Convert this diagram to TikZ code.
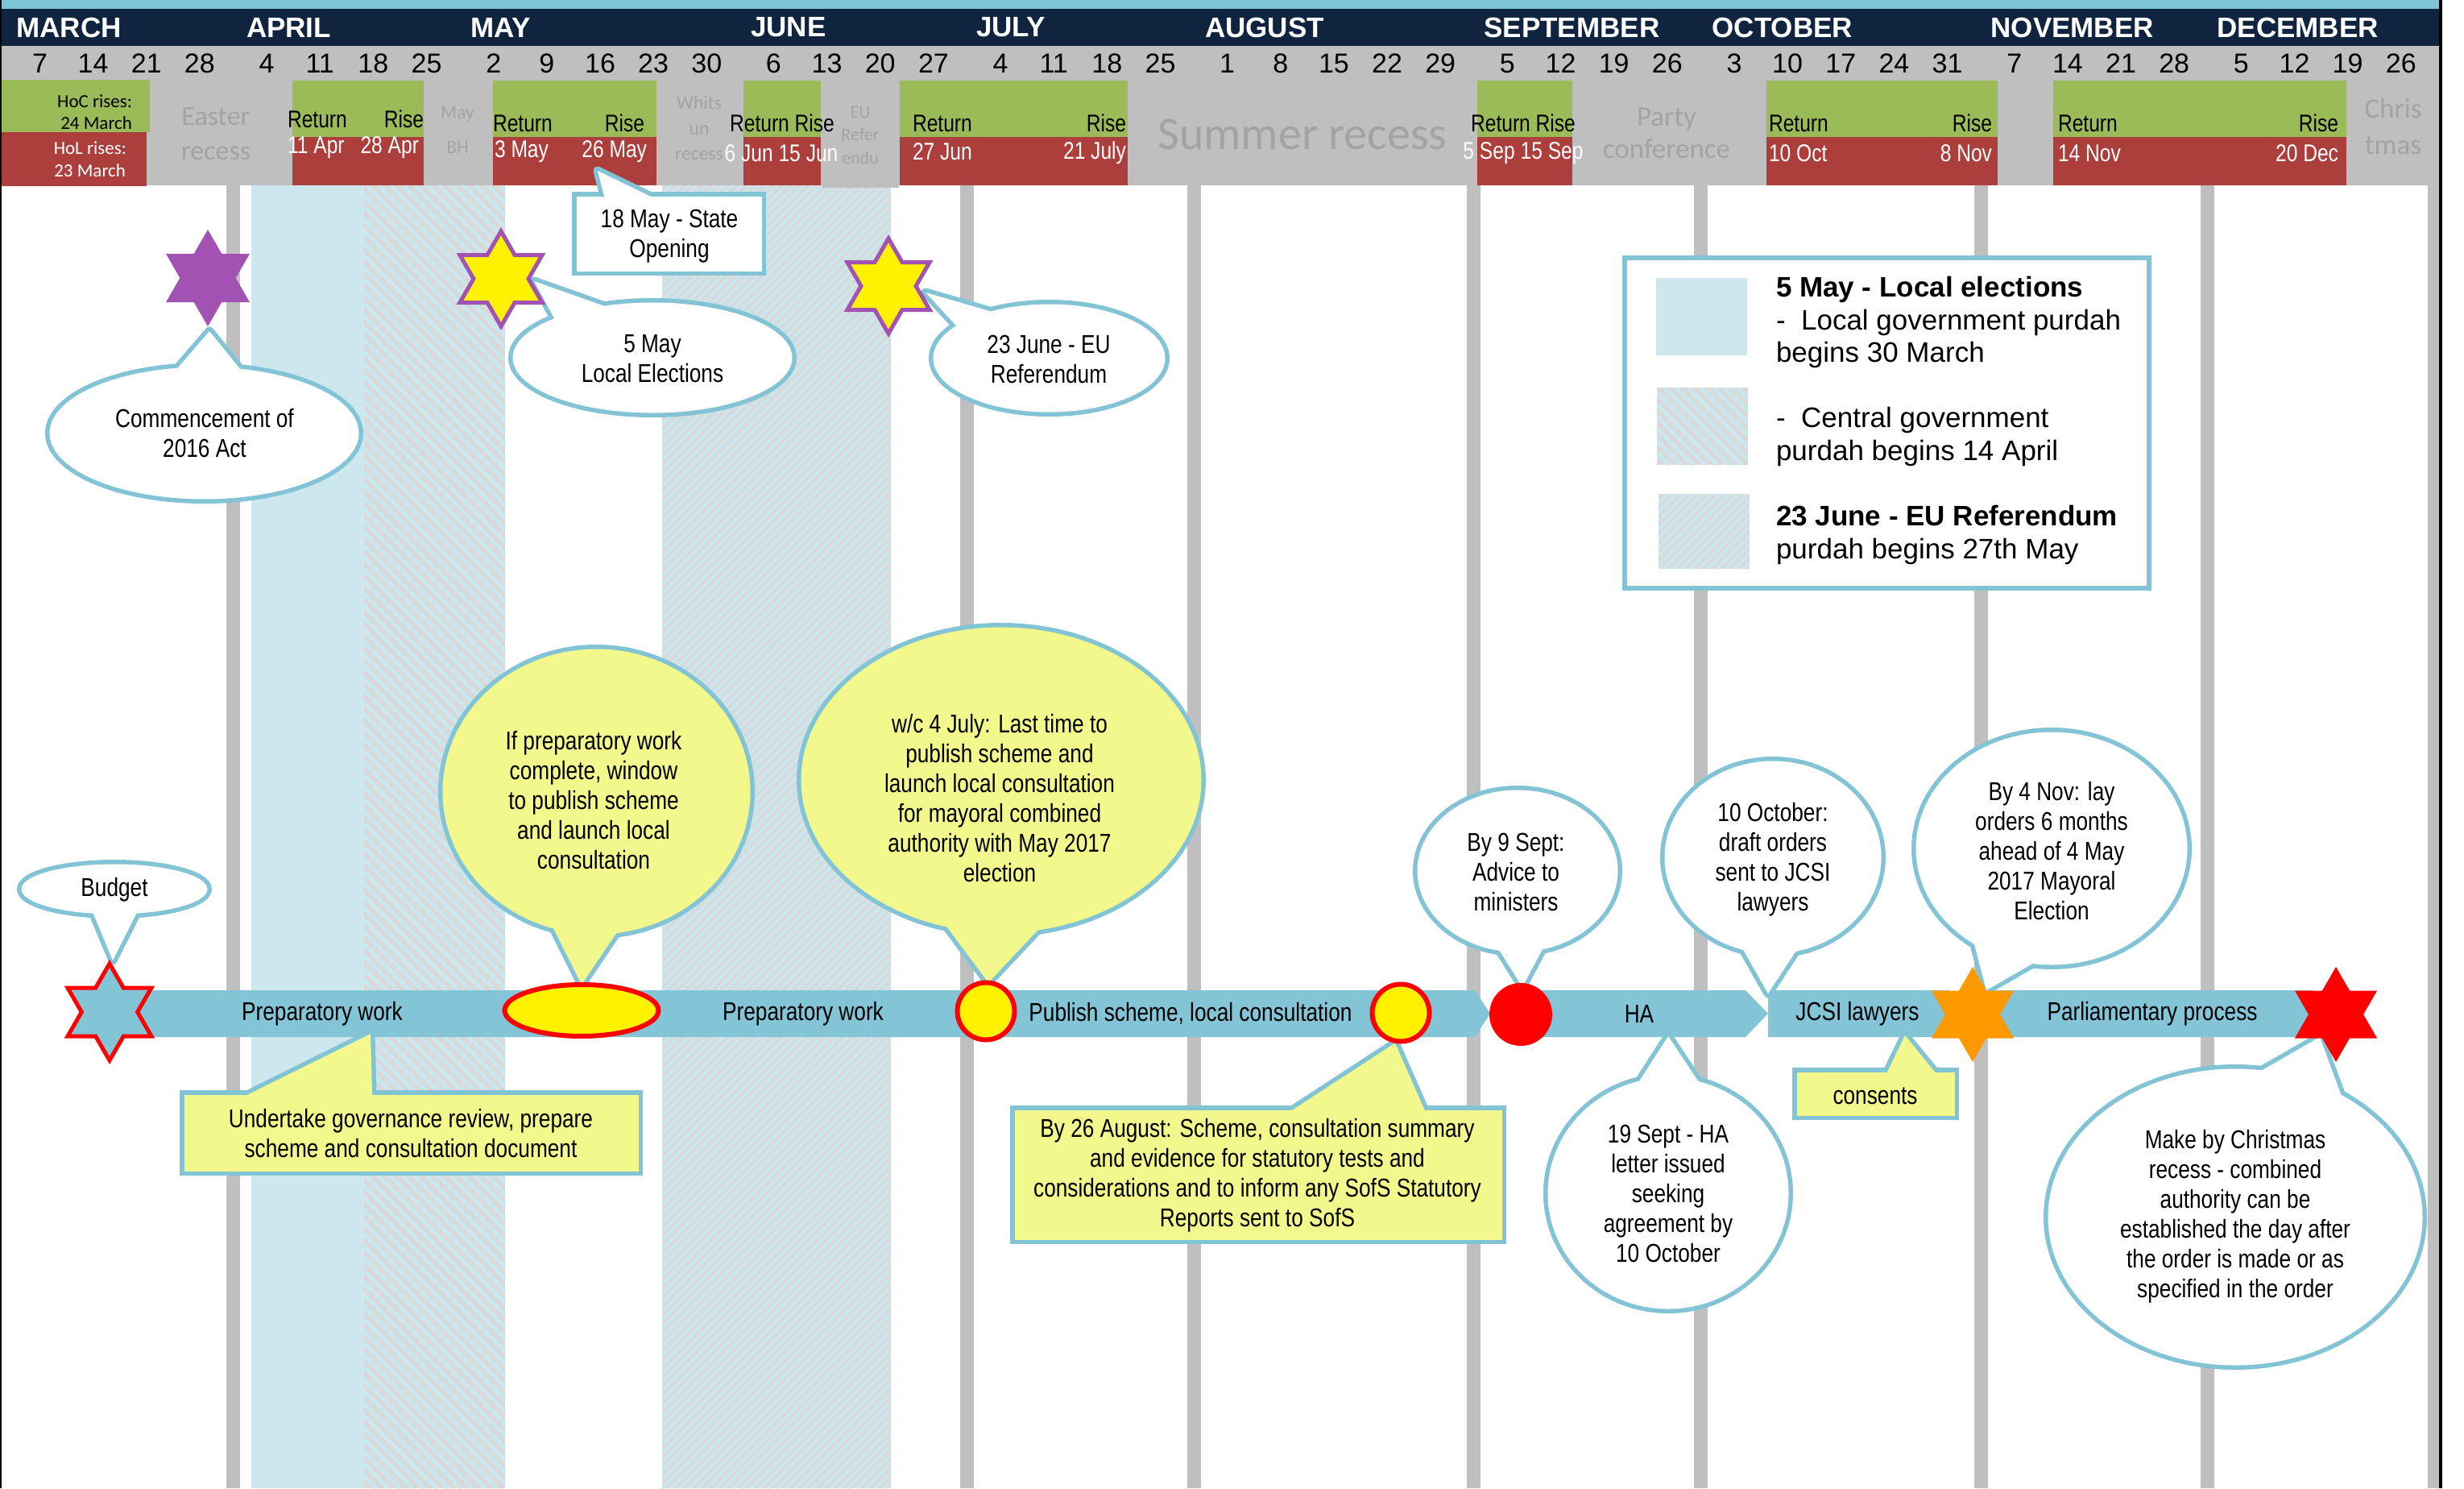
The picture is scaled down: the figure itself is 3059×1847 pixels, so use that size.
\documentclass[tikz,border=0pt]{standalone}
\usepackage{fontspec}
\setmainfont{Liberation Sans}
\newfontfamily\narrowf{Liberation Sans}[FakeStretch=0.82]
\newfontfamily\calibf{Carlito}
\usetikzlibrary{shapes.geometric,calc}
\pgfdeclarelayer{fg}
\pgfsetlayers{main,fg}
\definecolor{navy}{RGB}{16,36,64}
\definecolor{topblue}{RGB}{126,196,214}
\definecolor{hgrey}{RGB}{191,191,191}
\definecolor{hgreen}{RGB}{155,187,89}
\definecolor{hred}{RGB}{172,62,60}
\definecolor{rectxt}{RGB}{163,163,163}
\definecolor{barblue}{RGB}{131,196,214}
\definecolor{cb}{RGB}{130,195,214}
\definecolor{lblue}{RGB}{205,231,238}
\definecolor{hatchg}{RGB}{217,217,217}
\definecolor{hatchb}{RGB}{200,232,241}
\definecolor{cyel}{RGB}{243,248,140}
\definecolor{purp}{RGB}{162,82,178}
\definecolor{starorange}{RGB}{255,153,0}

% x1,y1,x2,y2, period, stripe width   ("\\" direction)
\newcommand\hatchbs[6]{%
  \begin{scope}
    \clip (#1,#2) rectangle (#3,#4);
    \fill[hatchg] (#1,#2) rectangle (#3,#4);
    \pgfmathsetmacro\hh{#4-#2}
    \pgfmathtruncatemacro\nn{(#3-#1+\hh)/#5+1}
    \foreach \k in {0,...,\nn}{\draw[hatchb,line width=#6pt] ({#1-\hh+#5*\k},#2) -- ++(\hh,\hh);}
  \end{scope}}
% x1,y1,x2,y2, period, stripe width   ("/" direction)
\newcommand\hatchfs[6]{%
  \begin{scope}
    \clip (#1,#2) rectangle (#3,#4);
    \fill[hatchg] (#1,#2) rectangle (#3,#4);
    \pgfmathsetmacro\hh{#4-#2}
    \pgfmathtruncatemacro\nn{(#3-#1+\hh)/#5+1}
    \foreach \k in {0,...,\nn}{\draw[hatchb,line width=#6pt] ({#1-\hh+#5*\k},#4) -- ++(\hh,-\hh);}
  \end{scope}}
% shape, name, centre, width, height, fill, base1 (rel), tip, base2 (rel)
\newcommand\mycallout[9]{%
  \node[#1, minimum width=#4, minimum height=#5, draw=cb, line width=11pt, fill=#6] (#2) at #3 {};
  \draw[cb, line width=11pt, line join=round] ($(#2)+#7$) -- #8 -- ($(#2)+#9$);
  \node[#1, minimum width=#4, minimum height=#5, fill=#6] (#2f) at #3 {};
  \fill[#6] ($(#2)+#7$) -- #8 -- ($(#2)+#9$) -- cycle;
}

\tikzset{
  every node/.style={inner sep=0pt, outer sep=0pt},
  ctext/.style={font=\narrowf\fontsize{32}{37}\selectfont, align=center, text=black},
  bartext/.style={font=\narrowf\fontsize{32}{37}\selectfont, text=black},
  month/.style={font=\bfseries\fontsize{35}{40}\selectfont, text=white, anchor=west},
  datenum/.style={font=\fontsize{34}{40}\selectfont, text=black},
  htx/.style={font=\narrowf\fontsize{30}{34}\selectfont, text=black},
  hsm/.style={font=\calibf\fontsize{23}{28}\selectfont, text=black},
  rec/.style={text=rectxt, align=center},
  legtext/.style={font=\fontsize{35}{40.5}\selectfont, align=left, anchor=west, text=black},
  star6/.style={star, star points=6, star point ratio=1.732, inner sep=0pt, outer sep=0pt},
}

\begin{document}
\begin{tikzpicture}[x=1pt,y=-1pt]
\useasboundingbox (0,0) rectangle (3059,1847);
\fill[white] (0,0) rectangle (3059,1847);

% ---------- body columns ----------
\foreach \sx in {281,562.6,910.4,1192,1473.6,1821.3,2102.9,2450.7,2732.3,3013.9}
  \fill[hgrey] (\sx,230) rectangle ++(17,1617);
\fill[lblue] (312,230) rectangle (452,1847);
\hatchbs{452}{230}{627}{1847}{15}{4.5}
\hatchfs{822}{230}{1106}{1847}{11}{3.5}

% ---------- header ----------
\fill[topblue] (0,0) rectangle (3028,11);
\fill[navy] (0,11) rectangle (3028,57);
\fill[hgrey] (0,57) rectangle (3028,230);
\fill[hgrey] (1021,100) rectangle (1116,233);

\foreach \x/\t [count=\i] in {20.5/MARCH,306/APRIL,584.5/MAY,932/JUNE,1212/JULY,1496/AUGUST,1842.5/SEPTEMBER,2125.5/OCTOBER,2471.5/NOVEMBER,2752.5/DECEMBER}
  \node[month] (mon\i) at (\x,34) {\t};

\foreach \x/\d [count=\i] in {49.5/7,115.6/14,181.8/21,247.9/28,331.1/4,397.2/11,463.4/18,529.5/25,612.7/2,678.8/9,745.0/16,811.1/23,877.3/30,960.4/6,1026.6/13,1092.7/20,1158.9/27,1242.0/4,1308.2/11,1374.3/18,1440.5/25,1523.6/1,1589.8/8,1655.9/15,1722.1/22,1788.2/29,1871.4/5,1937.5/12,2003.7/19,2069.8/26,2153.0/3,2219.1/10,2285.3/17,2351.4/24,2417.6/31,2500.7/7,2566.9/14,2633.0/21,2699.2/28,2782.3/5,2848.5/12,2914.6/19,2980.8/26}
  \node[datenum] (day\i) at (\x,79) {\d};

% sitting boxes
\fill[hgreen] (0,99) rectangle (186,164);
\fill[hred] (0,164) rectangle (182,231);
\foreach \a/\b in {363/526,612/815,923/1019,1117/1400,1834/1952,2193/2480,2549/2913}{
  \fill[hgreen] (\a,100) rectangle (\b,170);
  \fill[hred] (\a,170) rectangle (\b,230);
}

% recess labels
\node[rec, font=\calibf\fontsize{34}{43}\selectfont] (easter) at (268,166) {Easter\\recess};
\node[rec, font=\calibf\fontsize{23.5}{43}\selectfont] (maybh) at (568,161) {May\\BH};
\node[rec, font=\calibf\fontsize{23.5}{31.5}\selectfont] (whits) at (868,159) {Whits\\un\\recess};
\node[rec, font=\calibf\fontsize{22}{28.5}\selectfont] (euref) at (1068,168) {EU\\Refer\\endu};
\node[rec, font=\calibf\fontsize{58}{60}\selectfont] (summer) at (1617,167) {Summer recess};
\node[rec, font=\calibf\fontsize{35}{40}\selectfont] (party) at (2069,165) {Party\\conference};
\node[rec, font=\calibf\fontsize{35}{45}\selectfont] (xmasr) at (2971,157) {Chris\\tmas};

\node[hsm, anchor=east] (hoc1) at (164,126) {HoC rises:};
\node[hsm, anchor=east] (hoc2) at (164,153) {24 March};
\node[hsm, anchor=east, text=white] (hol1) at (157,184) {HoL rises:};
\node[hsm, anchor=east, text=white] (hol2) at (156,212) {23 March};

\node[htx, anchor=west] (aprR) at (357,148) {Return};
\node[htx, anchor=east] (aprS) at (526,148) {Rise};
\node[htx, anchor=west, text=white] (aprR2) at (357,183) {11 Apr};
\node[htx, anchor=east, text=white] (aprS2) at (520,183) {28 Apr};
\node[htx, anchor=west] (mayR) at (612,153) {Return};
\node[htx, anchor=east] (mayS) at (800,153) {Rise};
\node[htx, anchor=west, text=white] (mayR2) at (614,188) {3 May};
\node[htx, anchor=east, text=white] (mayS2) at (803,188) {26 May};
\node[htx] (junR) at (971,153) {Return Rise};
\node[htx, text=white] (junR2) at (970,190) {6 Jun 15 Jun};
\node[htx, anchor=west] (julR) at (1133,153) {Return};
\node[htx, anchor=east] (julS) at (1398,153) {Rise};
\node[htx, anchor=west, text=white] (julR2) at (1133,188) {27 Jun};
\node[htx, anchor=east, text=white] (julS2) at (1398,190) {21 July};
\node[htx] (sepR) at (1891,153) {Return Rise};
\node[htx, text=white] (sepR2) at (1891,190) {5 Sep 15 Sep};
\node[htx, anchor=west] (octR) at (2196,153) {Return};
\node[htx, anchor=east] (octS) at (2473,153) {Rise};
\node[htx, anchor=west, text=white] (octR2) at (2196,190) {10 Oct};
\node[htx, anchor=east, text=white] (octS2) at (2473,190) {8 Nov};
\node[htx, anchor=west] (novR) at (2555,153) {Return};
\node[htx, anchor=east] (novS) at (2903,153) {Rise};
\node[htx, anchor=west, text=white] (novR2) at (2555,190) {14 Nov};
\node[htx, anchor=east, text=white] (novS2) at (2903,190) {20 Dec};

% frame lines
\fill[black] (0,0) rectangle (2,1847);
\fill[black] (3028,0) rectangle (3032,1847);

% ---------- legend ----------
\node[rectangle, draw=cb, line width=6pt, fill=white, minimum width=651, minimum height=410] (legend) at (2342.5,525) {};
\fill[lblue] (2056,345) rectangle (2169,441);
\hatchbs{2057}{481}{2170}{577}{15}{4.5}
\hatchfs{2059}{613}{2172}{706}{11}{3.5}
\node[legtext] (lg1) at (2205,400) {\textbf{5 May - Local elections}\\-\ \ Local government purdah\\begins 30 March};
\node[legtext] (lg2) at (2205,542) {-\ \ Central government\\purdah begins 14 April};
\node[legtext] (lg3) at (2205,664) {\textbf{23 June - EU Referendum}\\purdah begins 27th May};

% ---------- timeline bar ----------
\fill[barblue] (150,1229) -- (1831,1229) -- (1850,1258) -- (1831,1287) -- (150,1287) -- cycle;
\fill[barblue] (1880,1229) -- (2167,1229) -- (2195,1258) -- (2167,1287) -- (1880,1287) -- cycle;
\fill[barblue] (2195,1229) -- (2420,1229) -- (2440,1258) -- (2420,1287) -- (2195,1287) -- cycle;
\fill[barblue] (2449,1229) -- (2871,1229) -- (2895,1258) -- (2871,1287) -- (2449,1287) -- cycle;
\node[bartext] (pw1) at (400,1258) {Preparatory work};
\node[bartext] (pw2) at (997,1258) {Preparatory work};
\node[bartext] (pub) at (1478,1258) {Publish scheme, local consultation};
\node[bartext] (ha) at (2035,1258) {HA};
\node[bartext] (jcsi) at (2306,1258) {JCSI lawyers};
\node[bartext] (parl) at (2672,1258) {Parliamentary process};

% ---------- markers (on top) ----------
\begin{pgfonlayer}{fg}
\node[star6, minimum size=120, fill=barblue, draw=red, line width=5pt] (budstar) at (136,1256) {};
\node[star6, minimum size=120, fill=purp] (pstar) at (258,345) {};
\node[star6, minimum size=118, fill=yellow, draw=purp, line width=5pt] (ystar1) at (622,346) {};
\node[star6, minimum size=118, fill=yellow, draw=purp, line width=5pt] (ystar2) at (1103,355) {};
\node[star6, minimum size=118, fill=starorange] (ostar) at (2449,1259) {};
\node[star6, minimum size=118, fill=red] (rstar) at (2900,1259) {};
\node[ellipse, minimum width=191, minimum height=64, fill=yellow, draw=red, line width=6pt] (yell) at (722,1254) {};
\node[circle, minimum size=71, fill=yellow, draw=red, line width=6pt] (yc1) at (1224,1255) {};
\node[circle, minimum size=71, fill=yellow, draw=red, line width=6pt] (yc2) at (1739,1257) {};
\node[circle, minimum size=78, fill=red] (redc) at (1888,1259) {};
\end{pgfonlayer}

\coordinate (opentip) at (742,212);

% ---------- callouts ----------
\mycallout{ellipse}{budget}{(142,1103.5)}{231}{62}{white}{(-30,21)}{($(budstar.north)+(4,-4)$)}{(32,21)}
\node[ctext] (budgett) at (142,1104) {Budget};

\mycallout{ellipse}{comm}{(253.5,537.5)}{384}{164}{white}{(-46,-65.5)}{($(pstar.south)+(2,6)$)}{(56,-65.5)}
\node[ctext] (commt) at (254,538) {Commencement of\\2016 Act};

\mycallout{ellipse}{may5}{(810,444)}{347}{137}{white}{(-42,-58)}{($(ystar1.center)+(41,3)$)}{(-111,-29)}
\node[ctext] (may5t) at (810,445) {5 May\\Local Elections};

\mycallout{rectangle}{stateop}{(830.5,290)}{230}{93}{white}{(-76.8,-32)}{(opentip)}{(6.5,-32)}
\node[ctext] (stateopt) at (831,293) {18 May - State\\Opening};

\mycallout{ellipse}{eu}{(1302.5,444.5)}{288}{134}{white}{(-46.5,-50.5)}{($(ystar2.center)+(46,8)$)}{(-99,-22.5)}
\node[ctext] (eut) at (1302,446) {23 June - EU\\Referendum};

\mycallout{ellipse}{prep}{(740.5,982.5)}{382}{354}{cyel}{(-62.5,151.5)}{(yell.north)}{(35.5,159.5)}
\node[ctext] (prept) at (737,993) {If preparatory work\\complete, window\\to publish scheme\\and launch local\\consultation};

\mycallout{ellipse}{wc}{(1243,968)}{497}{379}{cyel}{(-76,171)}{($(yc1.north)+(3,0)$)}{(57,174)}
\node[ctext] (wct) at (1241,991) {w/c 4 July: Last time to\\publish scheme and\\launch local consultation\\for mayoral combined\\authority with May 2017\\election};

\mycallout{rectangle}{gov}{(510.5,1406)}{564}{95}{cyel}{(-234,-32)}{($(pw1)+(60,25)$)}{(-48,-32)}
\node[ctext] (govt) at (510,1407) {Undertake governance review, prepare\\scheme and consultation document};

\mycallout{rectangle}{aug}{(1562,1458)}{605}{161}{cyel}{(16.6,-63.5)}{($(yc2.south)+(-7,2)$)}{(214,-63.5)}
\node[ctext] (augt) at (1561,1459) {By 26 August: Scheme, consultation summary\\and evidence for statutory tests and\\considerations and to inform any SofS Statutory\\Reports sent to SofS};

\mycallout{ellipse}{sept9}{(1884,1081)}{249}{201}{white}{(-33,82)}{($(redc.north)+(2,5)$)}{(40.5,79)}
\node[ctext] (sept9t) at (1882,1082) {By 9 Sept:\\Advice to\\ministers};

\mycallout{ellipse}{sept19}{(2071,1481)}{299}{287}{white}{(-40.5,-132)}{($(ha)+(36,28)$)}{(45,-127.5)}
\node[ctext] (sept19t) at (2071,1481) {19 Sept - HA\\letter issued\\seeking\\agreement by\\10 October};

\mycallout{ellipse}{oct10}{(2201,1064)}{269}{239}{white}{(-45,100.5)}{($(jcsi)+(-111,-25)$)}{(36,105)}
\node[ctext] (oct10t) at (2201,1067) {10 October:\\draft orders\\sent to JCSI\\lawyers};

\mycallout{ellipse}{nov4}{(2547,1053)}{337}{289}{white}{(-100,104)}{($(ostar.center)+(17,-30)$)}{(-5.5,132.5)}
\node[ctext] (nov4t) at (2547,1056) {By 4 Nov: lay\\orders 6 months\\ahead of 4 May\\2017 Mayoral\\Election};

\mycallout{rectangle}{cons}{(2328.5,1357.5)}{196}{54}{cyel}{(10,-18)}{($(jcsi)+(59,27)$)}{(81,-18)}
\node[ctext] (const) at (2328,1360) {consents};

\mycallout{ellipse}{xmas}{(2775,1510.5)}{465}{368}{white}{(14.5,-171.5)}{($(rstar.center)+(-20,28)$)}{(139,-131)}
\node[ctext] (xmast) at (2775,1510) {Make by Christmas\\recess - combined\\authority can be\\established the day after\\the order is made or as\\specified in the order};

\end{tikzpicture}
\end{document}
